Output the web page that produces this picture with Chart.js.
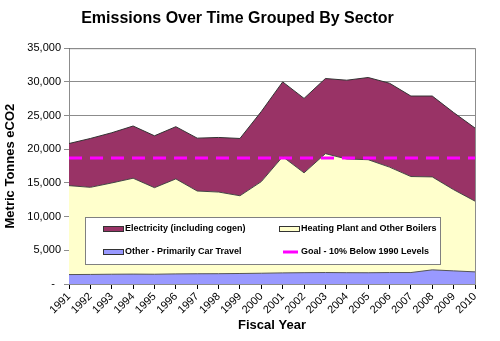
<!DOCTYPE html>
<html>
<head>
<meta charset="utf-8">
<script src="https://cdn.jsdelivr.net/npm/chart.js@4/dist/chart.umd.min.js"></script>
<style>
  body { margin: 0; background: #fff; }
</style>
</head>
<body>
<canvas id="emissionsChart" width="500" height="341"></canvas>
<script>
// DATA
const years = ["1991", "1992", "1993", "1994", "1995", "1996", "1997", "1998", "1999", "2000",
               "2001", "2002", "2003", "2004", "2005", "2006", "2007", "2008", "2009", "2010"];

const otherCarTravel = [1400, 1420, 1450, 1470, 1450, 1500, 1520, 1530, 1560, 1600,
                        1650, 1680, 1700, 1680, 1670, 1700, 1700, 2100, 1950, 1800];

const heatingPlant = [13200, 12930, 13550, 14230, 12850, 14100, 12280, 12120, 11540, 13600,
                      17250, 14820, 17650, 16870, 16780, 15650, 14250, 13800, 12050, 10500];

const electricity = [6250, 7250, 7450, 7750, 7700, 7750, 7850, 8100, 8500, 10400,
                     11100, 11050, 11150, 11700, 12200, 12450, 11950, 12000, 11450, 10850];

const goalLevel = [18700, 18700, 18700, 18700, 18700, 18700, 18700, 18700, 18700, 18700,
                   18700, 18700, 18700, 18700, 18700, 18700, 18700, 18700, 18700, 18700];

const yTicks = [0, 5000, 10000, 15000, 20000, 25000, 30000, 35000];

const FONT = "'Liberation Sans', Arial, sans-serif";
Chart.defaults.font.family = FONT;
Chart.defaults.color = "#000";

// plot frame (top + right border in grey)
const frame = {
    id: "frame",
    beforeDatasetsDraw(chart) {
        const { ctx, chartArea: a } = chart;
        ctx.save();
        ctx.strokeStyle = "#8c8c8c";
        ctx.lineWidth = 1;
        ctx.strokeRect(a.left + 0.5, a.top + 0.5, a.right - a.left, a.bottom - a.top);
        ctx.restore();
    }
};

// legend box sitting inside the plot
const boxLegend = {
    id: "boxLegend",
    afterDraw(chart) {
        const { ctx } = chart;
        const ds = chart.data.datasets;
        const byLabel = l => ds.find(d => d.label === l);
        const items = [
            { d: byLabel("Electricity (including cogen)"), x: 103, y: 229 },
            { d: byLabel("Heating Plant and Other Boilers"), x: 279, y: 229 },
            { d: byLabel("Other - Primarily Car Travel"), x: 103, y: 252 },
            { d: byLabel("Goal - 10% Below 1990 Levels"), x: 279, y: 252 }
        ];
        ctx.save();
        ctx.fillStyle = "#fff";
        ctx.fillRect(85, 217, 355, 47);
        ctx.strokeStyle = "#808080";
        ctx.lineWidth = 1;
        ctx.strokeRect(85.5, 217.5, 355, 47);

        ctx.font = "bold 9px " + FONT;
        ctx.textBaseline = "middle";
        items.forEach(it => {
            if (it.d.fill === false) {
                ctx.strokeStyle = it.d.borderColor;
                ctx.lineWidth = 3;
                ctx.beginPath();
                ctx.moveTo(it.x + 4, it.y);
                ctx.lineTo(it.x + 19, it.y);
                ctx.stroke();
            } else {
                ctx.fillStyle = it.d.backgroundColor;
                ctx.fillRect(it.x, it.y - 2.5, 20, 5);
                ctx.strokeStyle = "#333";
                ctx.lineWidth = 1;
                ctx.strokeRect(it.x + 0.5, it.y - 2.5, 20, 5);
            }
            ctx.fillStyle = "#000";
            ctx.fillText(it.d.label, it.x + 22, it.y);
        });
        ctx.restore();
    }
};

new Chart(document.getElementById("emissionsChart"), {
    type: "line",
    data: {
        labels: years,
        datasets: [
            {
                label: "Other - Primarily Car Travel",
                data: otherCarTravel,
                backgroundColor: "#9999ff",
                borderColor: "#555",
                borderWidth: 1,
                fill: "origin"
            },
            {
                label: "Heating Plant and Other Boilers",
                data: heatingPlant,
                backgroundColor: "#ffffcc",
                borderColor: "#444",
                borderWidth: 1,
                fill: "-1"
            },
            {
                label: "Electricity (including cogen)",
                data: electricity,
                backgroundColor: "#993366",
                borderColor: "#333",
                borderWidth: 1,
                fill: "-1"
            },
            {
                label: "Goal - 10% Below 1990 Levels",
                data: goalLevel,
                stack: "goal",
                order: -1,
                borderColor: "#ff00ff",
                borderWidth: 3,
                borderDash: [13, 8],
                fill: false
            }
        ]
    },
    options: {
        responsive: false,
        animation: false,
        layout: { padding: { top: 0, right: 25, bottom: 0, left: 0 } },
        elements: { point: { radius: 0 }, line: { tension: 0 } },
        plugins: {
            legend: { display: false },
            tooltip: { enabled: false },
            title: {
                display: true,
                text: "Emissions Over Time Grouped By Sector",
                font: { size: 16, weight: "bold" },
                padding: { top: 9, bottom: 20 }
            }
        },
        scales: {
            x: {
                afterFit(scale) { scale.height = 57; },
                grid: { drawOnChartArea: false, drawTicks: true, tickLength: 5, color: "#000" },
                border: { color: "#000" },
                ticks: { autoSkip: false, minRotation: 45, maxRotation: 45, padding: 1, font: { size: 11 } },
                title: {
                    display: true,
                    text: "Fiscal Year",
                    font: { size: 13, weight: "bold" },
                    padding: { top: 0, bottom: 8 }
                }
            },
            y: {
                stacked: true,
                min: 0,
                max: 35000,
                afterFit(scale) { scale.width = 69; },
                afterBuildTicks(scale) { scale.ticks = yTicks.map(v => ({ value: v })); },
                grid: { color: "#8c8c8c", tickLength: 5 },
                border: { color: "#000" },
                ticks: {
                    padding: 3,
                    font: { size: 11 },
                    callback: v => v === 0 ? "-  " : v.toLocaleString("en-US")
                },
                title: {
                    display: true,
                    text: "Metric Tonnes eCO2",
                    font: { size: 13, weight: "bold" },
                    padding: { top: 3, bottom: 0 }
                }
            }
        }
    },
    plugins: [frame, boxLegend]
});
</script>
</body>
</html>
